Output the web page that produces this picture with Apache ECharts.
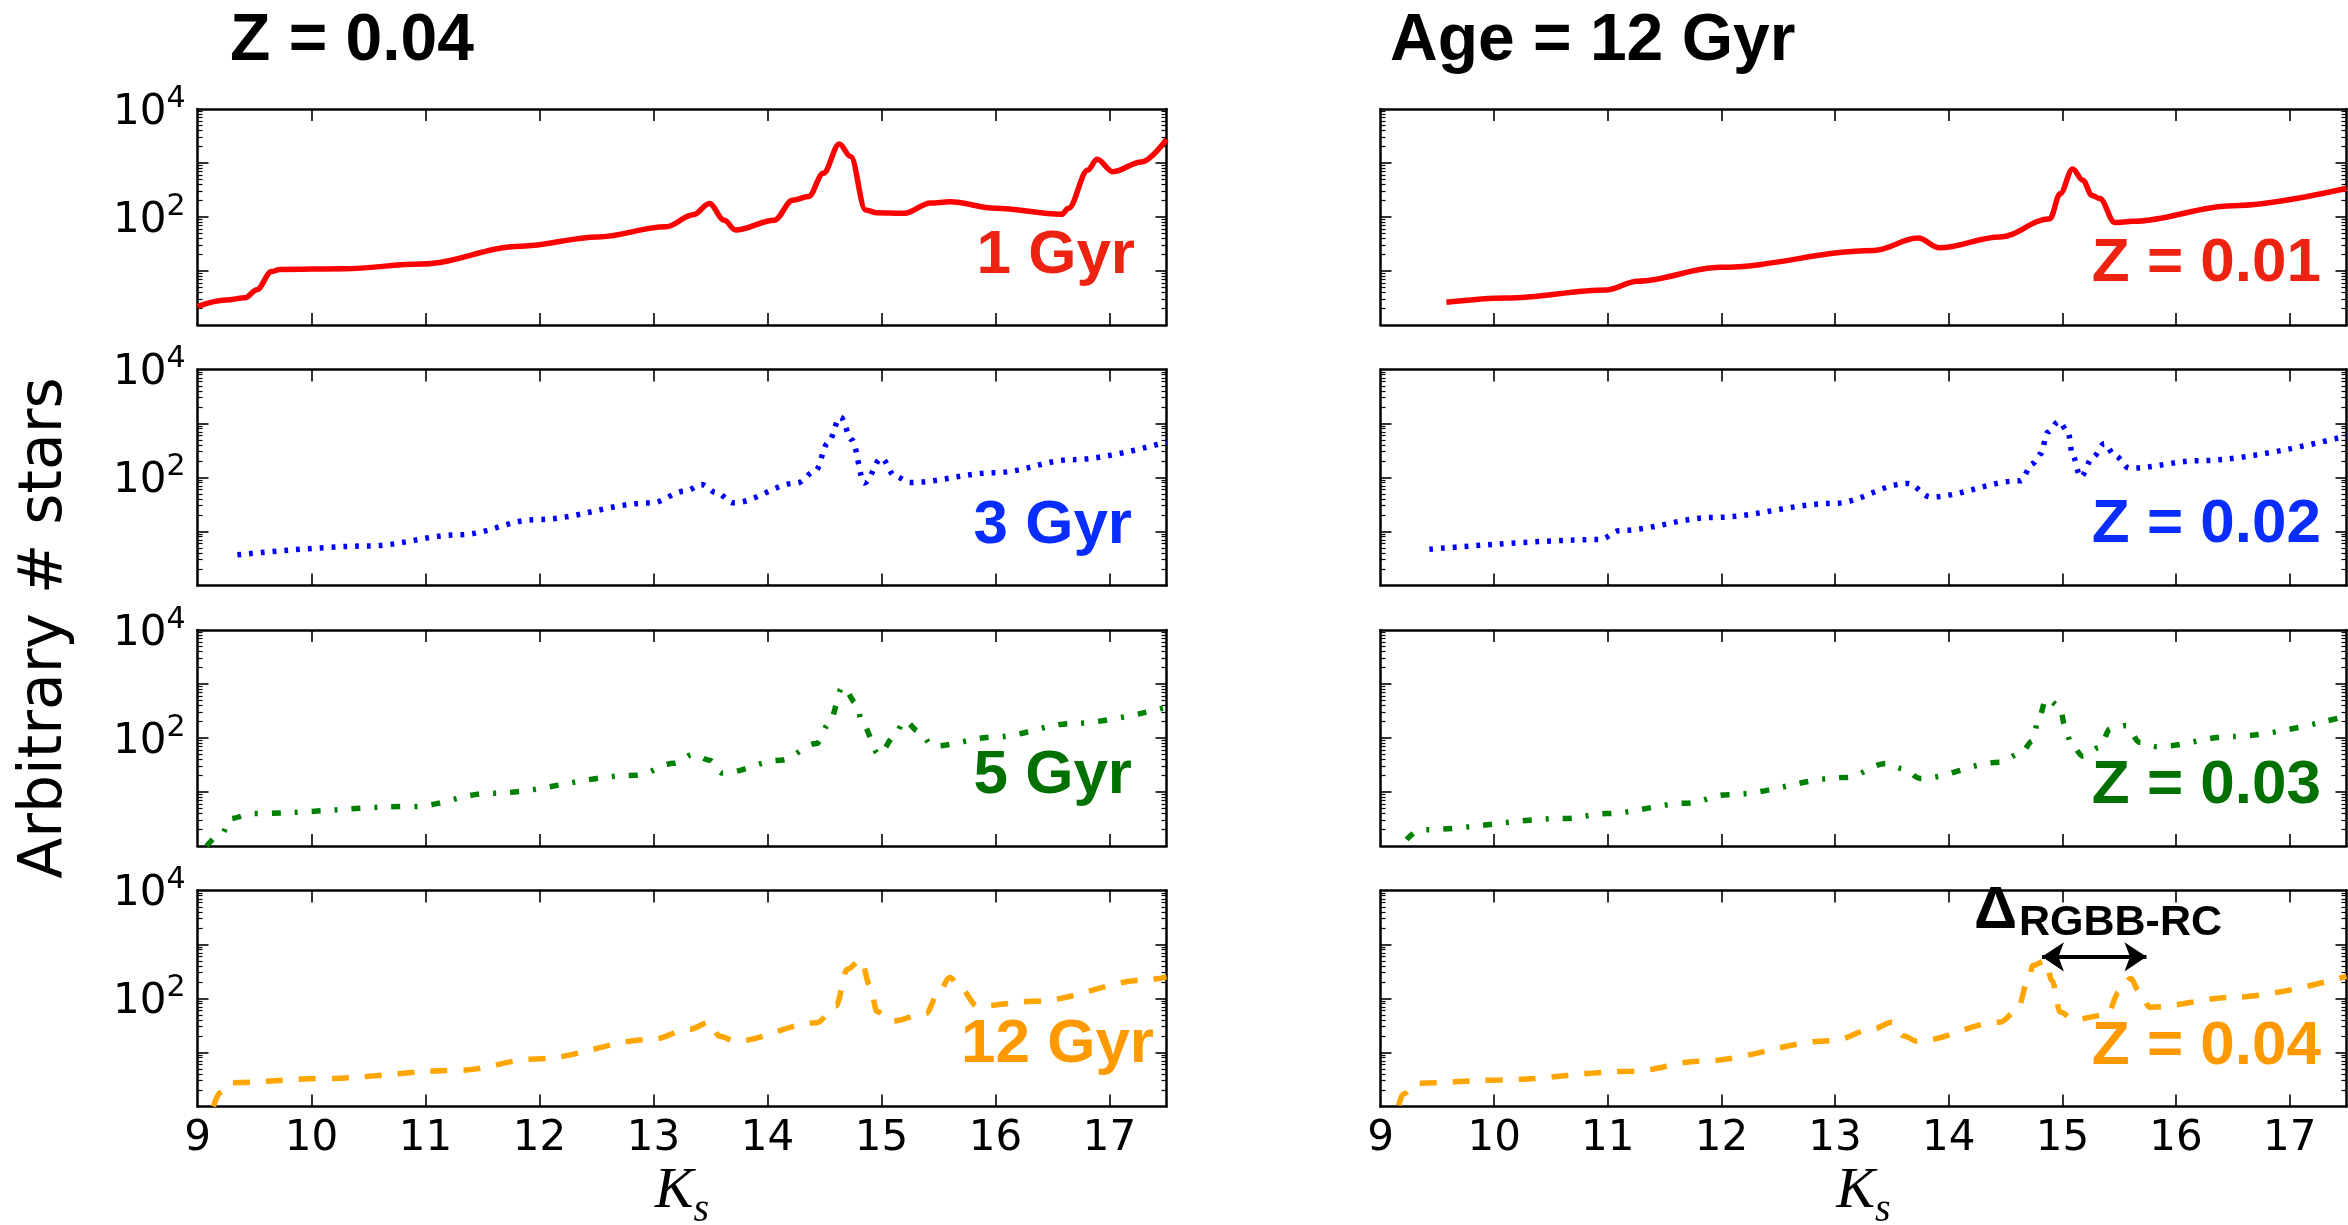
<!DOCTYPE html>
<html>
<head>
<meta charset="utf-8">
<script src="https://cdn.jsdelivr.net/npm/echarts@6/dist/echarts.min.js"></script>
<style>
  html, body { margin: 0; padding: 0; background: #fff; }
  #chart { width: 2348px; height: 1225px; }
</style>
</head>
<body>
<div id="chart"></div>
<script>
// ---- axis ticks ----
const ksTickLabels = [9, 10, 11, 12, 13, 14, 15, 16, 17];
const ksTickMarks = [10, 11, 12, 13, 14, 15, 16, 17];
const nMajorTicks = [10, 100, 1000];
const nLabelTicks = [100, 10000];
const nMinorTicks = [2, 3, 4, 5, 6, 7, 8, 9,
                     20, 30, 40, 50, 60, 70, 80, 90,
                     200, 300, 400, 500, 600, 700, 800, 900,
                     2000, 3000, 4000, 5000, 6000, 7000, 8000, 9000];

// ---- luminosity functions, Z = 0.04, by age: [Ks, number of stars] ----
const age1Gyr = [
  [9.00, 2.2], [9.25, 2.9], [9.42, 3.2], [9.52, 4.5], [9.65, 9.8], [9.72, 10.7],
  [10.29, 11], [10.96, 13.5], [11.84, 28.8], [12.51, 42.7], [13.11, 66],
  [13.35, 110], [13.49, 178], [13.62, 87], [13.72, 57.5], [14.06, 87],
  [14.22, 204], [14.36, 240], [14.49, 646], [14.63, 2240], [14.73, 1320],
  [14.86, 135], [14.96, 120], [15.20, 117], [15.43, 182], [15.60, 191],
  [16.00, 145], [16.58, 112], [16.64, 145], [16.81, 741], [16.89, 1175],
  [17.03, 692], [17.28, 1047], [17.50, 2750]
];
const age3Gyr = [
  [9.35, 3.7], [10.50, 5.4], [11.30, 8.7], [11.97, 16.6], [12.98, 33.9],
  [13.28, 56], [13.42, 74], [13.55, 52.5], [13.70, 33.9], [14.26, 79],
  [14.42, 132], [14.53, 437], [14.64, 1320], [14.74, 500], [14.85, 79],
  [15.00, 229], [15.12, 105], [15.25, 81], [16.00, 123], [16.68, 214],
  [17.50, 457]
];
const age5Gyr = [
  [9.08, 1.0], [9.22, 1.74], [9.28, 3.2], [9.49, 4.0], [10.90, 5.4],
  [11.57, 9.5], [12.85, 20.4], [13.18, 33.9], [13.35, 50], [13.49, 38.9],
  [13.60, 22.4], [14.12, 38.9], [14.43, 79], [14.54, 186], [14.66, 890],
  [14.78, 437], [14.83, 186], [14.98, 49], [15.11, 105], [15.20, 209],
  [15.33, 132], [15.45, 71], [16.00, 105], [16.68, 186], [17.50, 372]
];
const age12Gyr = [
  [9.14, 1.0], [9.20, 1.82], [9.28, 2.75], [10.09, 3.3], [11.30, 4.7],
  [11.97, 7.6], [12.98, 17.4], [13.32, 27], [13.49, 36.3], [13.58, 20],
  [13.72, 16.2], [14.43, 35.5], [14.60, 72.4], [14.70, 347], [14.82, 525],
  [14.90, 170], [14.96, 57.5], [15.09, 38], [15.39, 52.5], [15.50, 129],
  [15.60, 245], [15.70, 148], [15.84, 72.4], [16.34, 89], [17.35, 224],
  [17.50, 251]
];

// ---- luminosity functions, age = 12 Gyr, by metallicity ----
const metal001 = [
  [9.58, 2.63], [10.11, 3.16], [10.99, 4.47], [11.26, 6.46], [11.99, 11.7],
  [13.34, 24], [13.73, 40.7], [13.92, 26.9], [14.45, 42.7], [14.89, 93],
  [14.98, 269], [15.09, 776], [15.18, 479], [15.26, 251], [15.33, 219],
  [15.46, 79], [15.62, 83], [16.50, 162], [17.50, 340]
];
const metal002 = [
  [9.43, 4.68], [10.93, 7.08], [11.11, 10.5], [11.93, 18.2], [12.99, 33.1],
  [13.64, 77.6], [13.84, 43.7], [14.63, 87], [14.74, 182], [14.81, 275],
  [14.87, 692], [14.97, 1096], [15.05, 692], [15.09, 257], [15.16, 102],
  [15.27, 240], [15.37, 427], [15.46, 257], [15.59, 148], [16.20, 204],
  [17.50, 589]
];
const metal003 = [
  [9.23, 1.32], [9.35, 2.0], [10.63, 3.24], [10.99, 4.0], [11.70, 6.2],
  [12.05, 8.9], [13.10, 18.6], [13.45, 33.9], [13.60, 26.9], [13.75, 17.8],
  [14.45, 35.5], [14.63, 51.3], [14.74, 89], [14.79, 229], [14.86, 537],
  [14.98, 380], [15.02, 170], [15.08, 76], [15.18, 45.7], [15.33, 67.6],
  [15.42, 148], [15.56, 170], [15.68, 83], [15.83, 69], [16.50, 107],
  [17.50, 257]
];
const metal004 = [
  [9.16, 1.05], [9.20, 1.7], [9.32, 2.7], [10.05, 3.1], [11.22, 4.5],
  [11.81, 6.9], [12.98, 16.6], [13.34, 27.5], [13.50, 36.3], [13.60, 20.4],
  [13.72, 16.2], [14.45, 36.3], [14.60, 60], [14.70, 214], [14.74, 407],
  [14.85, 501], [14.91, 214], [14.98, 56], [15.10, 40.7], [15.39, 50],
  [15.50, 132], [15.60, 234], [15.68, 132], [15.77, 69], [16.50, 105],
  [17.50, 257]
];

// RGBB - RC separation arrow (Ks of red clump and RGB bump, height)
const deltaArrow = [[14.82, 590], [15.74, 590]];

// ---- styles ----
const lineKinds = {
  solid: 'solid',
  dotted: [3.8, 8],
  dashdot: [9, 14, 3, 14],
  dashed: [17, 16]
};

const panels = [
  { col: 0, row: 0, data: age1Gyr,  color: '#ff0000', kind: 'solid',   label: '1 Gyr',  labelColor: '#ee2211' },
  { col: 0, row: 1, data: age3Gyr,  color: '#0000ff', kind: 'dotted',  label: '3 Gyr',  labelColor: '#0a2dff' },
  { col: 0, row: 2, data: age5Gyr,  color: '#008000', kind: 'dashdot', label: '5 Gyr',  labelColor: '#007000' },
  { col: 0, row: 3, data: age12Gyr, color: '#ffa500', kind: 'dashed',  label: '12 Gyr', labelColor: '#ff9900' },
  { col: 1, row: 0, data: metal001, color: '#ff0000', kind: 'solid',   label: 'Z = 0.01', labelColor: '#ee2211' },
  { col: 1, row: 1, data: metal002, color: '#0000ff', kind: 'dotted',  label: 'Z = 0.02', labelColor: '#0a2dff' },
  { col: 1, row: 2, data: metal003, color: '#008000', kind: 'dashdot', label: 'Z = 0.03', labelColor: '#007000' },
  { col: 1, row: 3, data: metal004, color: '#ffa500', kind: 'dashed',  label: 'Z = 0.04', labelColor: '#ff9900' }
];

// ---- layout ----
const colLeft = [197.5, 1380.5];
const colWidth = [969, 966];
const rowTop = [109, 369.5, 630, 890.5];
const panelHeight = 216;
const labelRight = [[1135, 1132, 1132, 1154], [2321, 2321, 2321, 2321]];
const labelCenterOffset = [[146.5, 156.5, 146, 154.5], [155, 155, 155.5, 156]];

const tickFont = 'DejaVu Sans';
const boldFont = '"Liberation Sans", Arial, Helvetica, sans-serif';
const serifFont = '"Liberation Serif", "DejaVu Serif", serif';
const frame = { color: '#000', width: 2.5 };

const grids = [], xAxes = [], yAxes = [], series = [];

panels.forEach((p, i) => {
  grids.push({
    left: colLeft[p.col], top: rowTop[p.row],
    width: colWidth[p.col], height: panelHeight,
    containLabel: false, outerBoundsMode: 'none'
  });

  const bottomRow = p.row === 3;
  const xBase = {
    type: 'value', gridIndex: i, min: 9, max: 17.5,
    splitLine: { show: false },
    axisLine: { show: true, onZero: false, lineStyle: frame },
    axisTick: { show: true, inside: true, length: 12, customValues: ksTickMarks,
                lineStyle: { color: '#000', width: 1.6 } }
  };
  const xBottomIndex = xAxes.length;
  xAxes.push(Object.assign({}, xBase, {
    position: 'bottom',
    axisLabel: {
      show: bottomRow, customValues: ksTickLabels, margin: 12,
      fontFamily: tickFont, fontSize: 42, color: '#000'
    },
    name: bottomRow ? '{k|K}{s|s}' : '',
    nameLocation: 'middle', nameGap: 56,
    nameTextStyle: {
      rich: {
        k: { fontFamily: serifFont, fontStyle: 'italic',
             fontSize: 58, lineHeight: 68, verticalAlign: 'top', color: '#000' },
        s: { fontFamily: serifFont, fontStyle: 'italic',
             fontSize: 40, lineHeight: 40, verticalAlign: 'bottom', color: '#000' }
      }
    }
  }));
  xAxes.push(Object.assign({}, xBase, { position: 'top', axisLabel: { show: false } }));

  const yBase = {
    type: 'log', logBase: 10, min: 1, max: 10000, gridIndex: i,
    splitLine: { show: false },
    axisLine: { show: true, onZero: false, lineStyle: frame },
    axisTick: { show: true, inside: true, length: 11, customValues: nMajorTicks,
                lineStyle: { color: '#000', width: 1.6 } }
  };
  const yLeftIndex = yAxes.length;
  yAxes.push(Object.assign({}, yBase, {
    position: 'left',
    axisLabel: {
      show: p.col === 0, customValues: nLabelTicks, margin: 12,
      formatter: v => '{b|10}{s|' + Math.round(Math.log10(v)) + '}',
      rich: {
        b: { fontFamily: tickFont, fontSize: 42, lineHeight: 50, verticalAlign: 'bottom', color: '#000' },
        s: { fontFamily: tickFont, fontSize: 30, lineHeight: 30, verticalAlign: 'top', color: '#000' }
      }
    }
  }));
  yAxes.push(Object.assign({}, yBase, { position: 'right', axisLabel: { show: false } }));
  ['left', 'right'].forEach(side => {
    yAxes.push({
      type: 'log', logBase: 10, min: 1, max: 10000, gridIndex: i, position: side,
      splitLine: { show: false }, axisLine: { show: false }, axisLabel: { show: false },
      axisTick: { show: true, inside: true, length: 5, customValues: nMinorTicks,
                  lineStyle: { color: '#000', width: 1.2 } }
    });
  });

  const s = {
    type: 'line', name: p.label, data: p.data,
    xAxisIndex: xBottomIndex, yAxisIndex: yLeftIndex,
    showSymbol: false, smooth: 0.35, smoothMonotone: 'x', clip: true,
    lineStyle: { color: p.color, width: 5.5, type: lineKinds[p.kind], cap: 'butt' },
    z: 3
  };
  if (p.col === 1 && p.row === 3) {
    s.markLine = {
      silent: true, symbol: ['arrow', 'arrow'], symbolSize: [22, 22], precision: 2,
      lineStyle: { color: '#000', width: 4, type: 'solid' },
      label: { show: false },
      data: [[{ coord: deltaArrow[0] }, { coord: deltaArrow[1] }]]
    };
  }
  series.push(s);
});

// ---- text: headings, curve labels, shared y-axis title, Δ annotation ----
const texts = [];
function addText(x, y, text, font, color, align, rotation) {
  texts.push({
    type: 'text', x: x, y: y, rotation: rotation || 0, silent: true, z: 10,
    style: { text: text, font: font, fill: color, align: align || 'left', verticalAlign: 'middle' }
  });
}
addText(230, 41.5, 'Z = 0.04', 'bold 66px ' + boldFont, '#000');
addText(1390, 41.5, 'Age = 12 Gyr', 'bold 66px ' + boldFont, '#000');
panels.forEach(p => {
  addText(labelRight[p.col][p.row], rowTop[p.row] + labelCenterOffset[p.col][p.row],
          p.label, 'bold 62px ' + boldFont, p.labelColor, 'right');
});
addText(45, 628, 'Arbitrary # stars', '60px "DejaVu Sans"', '#000', 'center', Math.PI / 2);
addText(1974, 911.5, 'Δ', 'bold 60px ' + boldFont, '#000');
addText(2019, 923.5, 'RGBB-RC', 'bold 43px ' + boldFont, '#000');

const chart = echarts.init(document.getElementById('chart'), null, { renderer: 'canvas' });
chart.setOption({
  animation: false,
  backgroundColor: '#fff',
  grid: grids,
  xAxis: xAxes,
  yAxis: yAxes,
  series: series,
  graphic: { elements: texts }
});
</script>
</body>
</html>
